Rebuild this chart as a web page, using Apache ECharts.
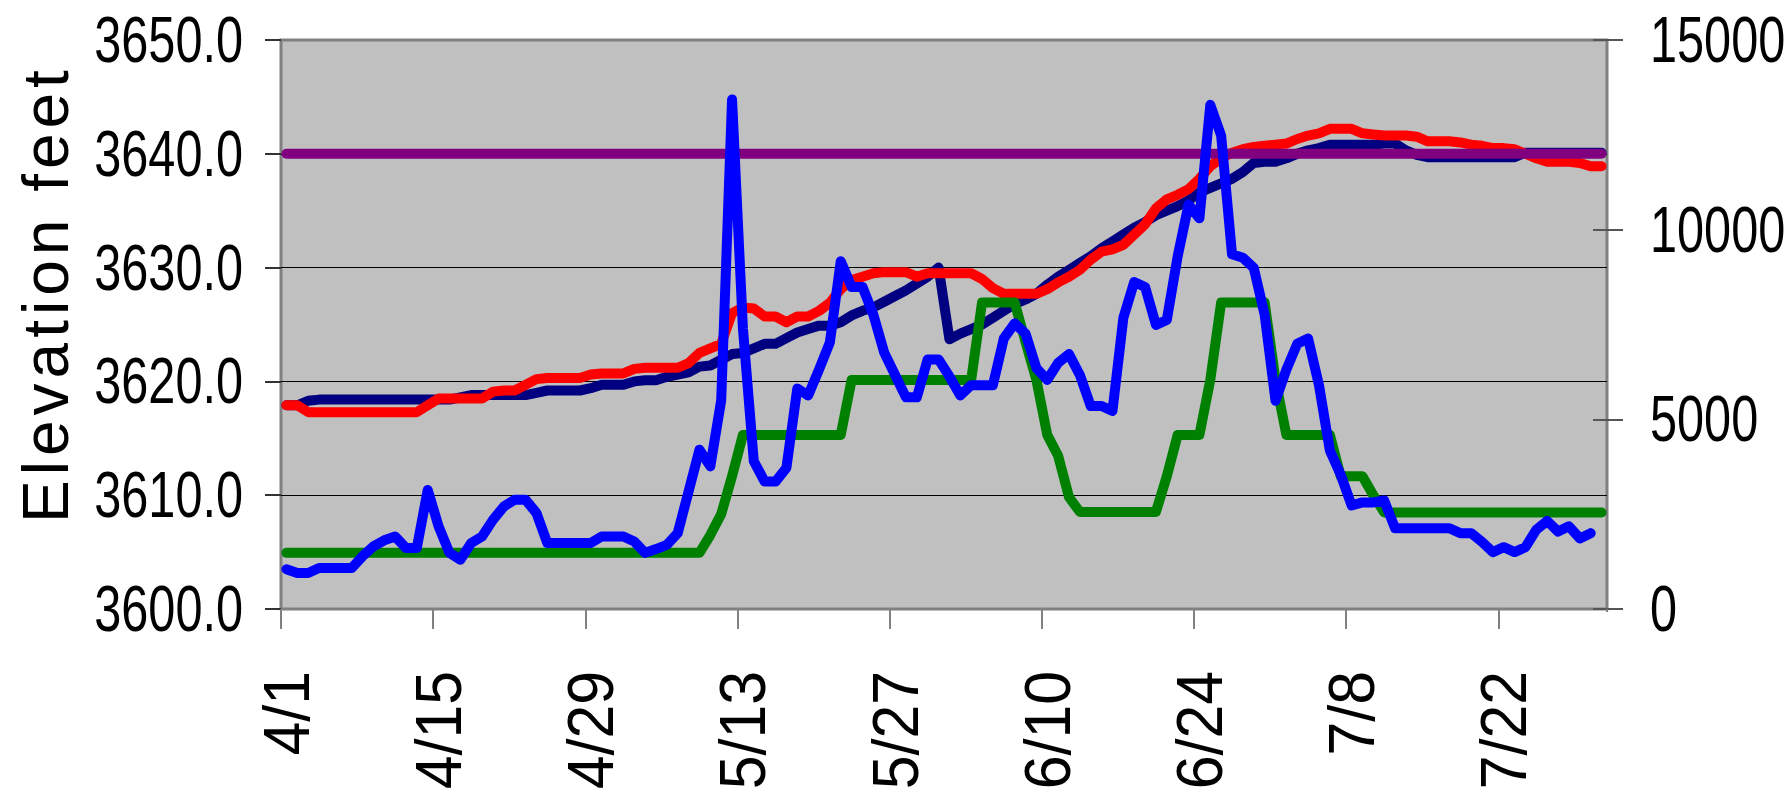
<!DOCTYPE html>
<html>
<head>
<meta charset="utf-8">
<script src="https://cdn.jsdelivr.net/npm/echarts@6/dist/echarts.min.js"></script>
<style>
  html, body { margin: 0; padding: 0; background: #fff; }
  #chart { width: 1789px; height: 790px; }
</style>
</head>
<body>
<div id="chart"></div>
<script>
// one category per day, 4/1 .. 7/31
const monthDays = [[4, 30], [5, 31], [6, 30], [7, 31]];
const dates = [];
monthDays.forEach(([m, n]) => {
  for (let d = 1; d <= n; d++) dates.push(m + '/' + d);
});

// elevation (feet) - left axis
const elevation1 = [
  3617.9, 3617.9, 3618.3, 3618.4, 3618.4, 3618.4, 3618.4, 3618.4, 3618.4, 3618.4,
  3618.4, 3618.4, 3618.4, 3618.4, 3618.4, 3618.4, 3618.6, 3618.8, 3618.8, 3618.8,
  3618.8, 3618.8, 3618.8, 3619.0, 3619.2, 3619.2, 3619.2, 3619.2, 3619.4, 3619.7,
  3619.7, 3619.7, 3620.0, 3620.1, 3620.1, 3620.4, 3620.6, 3620.8, 3621.3, 3621.4,
  3621.9, 3622.4, 3622.5, 3622.9, 3623.3, 3623.3, 3623.8, 3624.3, 3624.6, 3624.9,
  3624.9, 3625.2, 3625.8, 3626.2, 3626.5, 3627.0, 3627.5, 3628.0, 3628.6, 3629.2,
  3630.0, 3623.7, 3624.2, 3624.6, 3625.0, 3625.6, 3626.2, 3626.8, 3627.2, 3627.7,
  3628.5, 3629.2, 3629.8, 3630.4, 3631.0, 3631.7, 3632.3, 3632.9, 3633.5, 3634.0,
  3634.6, 3635.0, 3635.4, 3635.9, 3636.6, 3637.0, 3637.4, 3637.8, 3638.4, 3639.2,
  3639.3, 3639.3, 3639.6, 3640.0, 3640.3, 3640.5, 3640.8, 3640.8, 3640.8, 3640.8,
  3640.8, 3640.9, 3640.9, 3640.3, 3639.9, 3639.7, 3639.7, 3639.7, 3639.7, 3639.7,
  3639.7, 3639.7, 3639.7, 3639.7, 3640.1, 3640.1, 3640.1, 3640.1, 3640.1, 3640.1,
  3640.1, 3640.1
];
const elevation2 = [
  3617.9, 3617.9, 3617.3, 3617.3, 3617.3, 3617.3, 3617.3, 3617.3, 3617.3, 3617.3,
  3617.3, 3617.3, 3617.3, 3617.9, 3618.5, 3618.5, 3618.5, 3618.5, 3618.5, 3619.1,
  3619.2, 3619.2, 3619.7, 3620.2, 3620.3, 3620.3, 3620.3, 3620.3, 3620.6, 3620.7,
  3620.7, 3620.7, 3621.1, 3621.2, 3621.2, 3621.2, 3621.2, 3621.6, 3622.5, 3622.9,
  3623.3, 3626.0, 3626.5, 3626.4, 3625.7, 3625.7, 3625.2, 3625.7, 3625.7, 3626.2,
  3626.9, 3628.1, 3628.9, 3629.2, 3629.5, 3629.6, 3629.6, 3629.6, 3629.2, 3629.5,
  3629.5, 3629.5, 3629.5, 3629.5, 3629.0, 3628.2, 3627.7, 3627.7, 3627.7, 3627.7,
  3628.1, 3628.7, 3629.2, 3629.8, 3630.7, 3631.4, 3631.6, 3632.0, 3632.9, 3633.8,
  3635.2, 3636.0, 3636.4, 3636.9, 3637.8, 3638.9, 3639.6, 3640.1, 3640.4, 3640.6,
  3640.7, 3640.8, 3640.9, 3641.3, 3641.6, 3641.8, 3642.2, 3642.2, 3642.2, 3641.8,
  3641.7, 3641.6, 3641.6, 3641.6, 3641.5, 3641.1, 3641.1, 3641.1, 3641.0, 3640.8,
  3640.7, 3640.5, 3640.5, 3640.4, 3640.0, 3639.6, 3639.3, 3639.3, 3639.3, 3639.2,
  3638.9, 3638.9
];
const fullPoolLevel = 3640.0;

// flows (cfs) - right axis
const release = [
  1480, 1480, 1480, 1480, 1480, 1480, 1480, 1480, 1480, 1480,
  1480, 1480, 1480, 1480, 1480, 1480, 1480, 1480, 1480, 1480,
  1480, 1480, 1480, 1480, 1480, 1480, 1480, 1480, 1480, 1480,
  1480, 1480, 1480, 1480, 1480, 1480, 1480, 1480, 1480, 1950,
  2500, 3500, 4590, 4590, 4590, 4590, 4590, 4590, 4590, 4590,
  4590, 4590, 6040, 6040, 6040, 6040, 6040, 6040, 6040, 6040,
  6040, 6040, 6040, 6040, 8080, 8080, 8080, 8080, 7040, 6040,
  4590, 4040, 2950, 2560, 2560, 2560, 2560, 2560, 2560, 2560,
  2560, 3500, 4590, 4590, 4590, 6040, 8080, 8080, 8080, 8080,
  8080, 6040, 4590, 4590, 4590, 4590, 4590, 3500, 3500, 3500,
  3000, 2545, 2545, 2545, 2545, 2545, 2545, 2545, 2545, 2545,
  2545, 2545, 2545, 2545, 2545, 2545, 2545, 2545, 2545, 2545,
  2545, 2545
];
const inflow = [
  1050, 950, 950, 1080, 1080, 1080, 1080, 1390, 1650, 1810,
  1910, 1610, 1610, 3140, 2180, 1480, 1300, 1740, 1910, 2350,
  2700, 2880, 2880, 2530, 1740, 1740, 1740, 1740, 1740, 1910,
  1910, 1910, 1780, 1480, 1580, 1690, 2000, 3100, 4200, 3760,
  5500, 13430, 7400, 3900, 3360, 3360, 3720, 5810, 5630, 6310,
  7030, 9170, 8490, 8490, 7760, 6760, 6170, 5580, 5580, 6580,
  6580, 6130, 5630, 5900, 5900, 5900, 7130, 7530, 7260, 6350,
  6040, 6490, 6720, 6170, 5350, 5350, 5220, 7670, 8620, 8490,
  7490, 7620, 9300, 10660, 10300, 13290, 12480, 9350, 9260, 8990,
  7760, 5490, 6310, 6990, 7130, 5900, 4180, 3540, 2730, 2810,
  2810, 2860, 2130, 2130, 2130, 2130, 2130, 2130, 2000, 2000,
  1770, 1500, 1630, 1500, 1630, 2090, 2320, 2040, 2180, 1860,
  2000
];

const sans = "'Liberation Sans', Arial, sans-serif";
const TITLE = 'Elevation feet';

function line(name, data, color, yAxisIndex, width) {
  return {
    name: name,
    type: 'line',
    data: data,
    yAxisIndex: yAxisIndex,
    symbol: 'none',
    silent: true,
    lineStyle: { color: color, width: width, cap: 'round', join: 'round' }
  };
}

const chart = echarts.init(document.getElementById('chart'), null, { renderer: 'svg' });

const option = {
  animation: false,
  backgroundColor: '#fff',
  grid: {
    left: 281, right: 182, top: 40, bottom: 181,
    containLabel: false, outerBoundsMode: 'none',
    show: true, backgroundColor: '#C0C0C0', borderColor: '#808080', borderWidth: 3
  },
  xAxis: {
    type: 'category',
    data: dates,
    boundaryGap: true,
    axisLine: { show: false },
    axisTick: { show: true, interval: 13, length: 20, lineStyle: { color: '#808080', width: 2 } },
    axisLabel: {
      interval: 13, rotate: 90, margin: 62, color: '#000',
      fontSize: 64, fontFamily: sans, padding: [10, 0, 0, 0]
    },
    splitLine: { show: false }
  },
  yAxis: [
    {
      type: 'value', min: 3600, max: 3650, interval: 10, position: 'left',
      axisLine: { show: false },
      axisTick: { show: true, length: 16, lineStyle: { color: '#333', width: 2 } },
      axisLabel: { formatter: v => v.toFixed(1), fontSize: 64, fontFamily: sans, color: '#000', margin: 38 },
      splitLine: { show: true, showMinLine: false, showMaxLine: false, lineStyle: { color: '#000', width: 1 } }
    },
    {
      type: 'value', min: 0, max: 15000, interval: 5000, position: 'right',
      axisLine: { show: false },
      axisTick: { show: true, length: 16, lineStyle: { color: '#555', width: 2 } },
      axisLabel: { formatter: v => String(v), fontSize: 64, fontFamily: sans, color: '#000', margin: 43 },
      splitLine: { show: false }
    },
    {
      // inner half of the cross ticks on the right
      type: 'value', min: 0, max: 15000, interval: 5000, position: 'right',
      axisLine: { show: false },
      axisTick: { show: true, inside: true, length: 14, lineStyle: { color: '#555', width: 2 } },
      axisLabel: { show: false },
      splitLine: { show: false }
    }
  ],
  graphic: [
    {
      type: 'text',
      x: 46, y: 294,
      rotation: Math.PI / 2,
      style: {
        text: TITLE,
        font: "64px 'Liberation Sans', Arial, sans-serif",
        fill: '#000',
        textAlign: 'center', textVerticalAlign: 'middle',
        align: 'center', verticalAlign: 'middle'
      }
    },
    {
      // hide the closing band tick echarts adds at the right end of the date axis
      type: 'rect', z: 100,
      shape: { x: 1603, y: 612, width: 10, height: 24 },
      style: { fill: '#fff' }
    }
  ],
  series: [
    line('Elevation 1', elevation1, '#000080', 0, 10),
    line('Elevation 2', elevation2, '#FF0000', 0, 10),
    line('Full pool', dates.map(() => fullPoolLevel), '#800080', 0, 10),
    line('Release', release, '#008000', 1, 10),
    line('Inflow', inflow, '#0000FF', 1, 10)
  ]
};

// the original uses a condensed face for the tick labels and a spaced title
function restyleText() {
  const xLabels = new Set(dates);
  document.querySelectorAll('#chart text').forEach(t => {
    if (t.dataset.done) return;
    t.dataset.done = '1';
    const s = t.textContent;
    if (s === TITLE) {
      t.style.letterSpacing = '5px';
      return;
    }
    const k = xLabels.has(s) ? 0.95 : 0.76;
    const x = parseFloat(t.getAttribute('x') || 0);
    const y = parseFloat(t.getAttribute('y') || 0);
    const tr = t.getAttribute('transform') || '';
    t.setAttribute('transform', tr + ` translate(${x},${y}) scale(${k},1) translate(${-x},${-y})`);
  });
}
chart.on('finished', restyleText);
chart.setOption(option);
restyleText();
</script>
</body>
</html>
